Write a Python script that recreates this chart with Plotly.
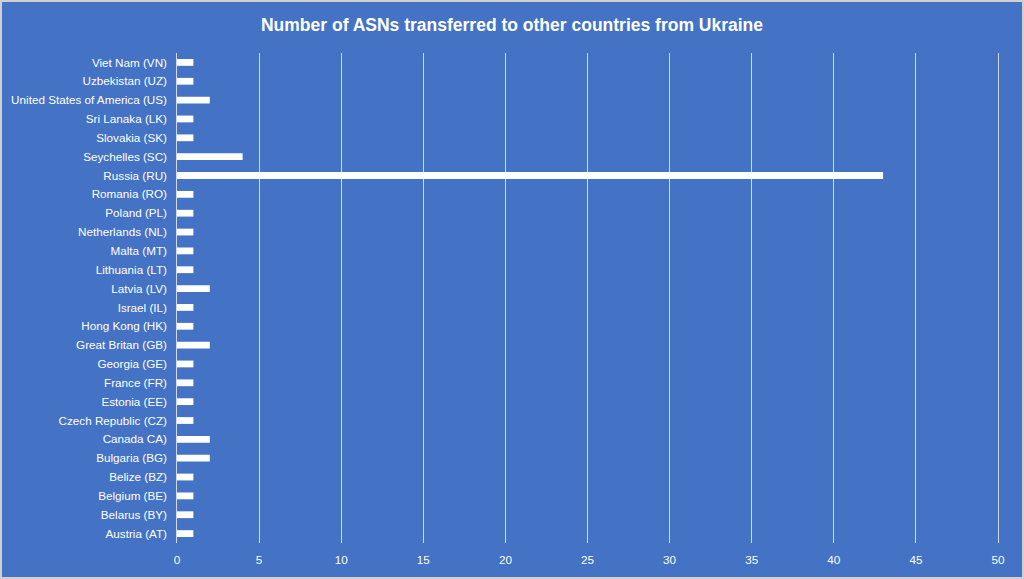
import plotly.graph_objects as go

countries = [
    "Austria (AT)", "Belarus (BY)", "Belgium (BE)", "Belize (BZ)", "Bulgaria (BG)",
    "Canada CA)", "Czech Republic (CZ)", "Estonia (EE)", "France (FR)", "Georgia (GE)",
    "Great Britan (GB)", "Hong Kong (HK)", "Israel (IL)", "Latvia (LV)", "Lithuania (LT)",
    "Malta (MT)", "Netherlands (NL)", "Poland (PL)", "Romania (RO)", "Russia (RU)",
    "Seychelles (SC)", "Slovakia (SK)", "Sri Lanaka (LK)", "United States of America (US)",
    "Uzbekistan (UZ)", "Viet Nam (VN)",
]
asn_counts = [1, 1, 1, 1, 2, 2, 1, 1, 1, 1, 2, 1, 1, 2, 1, 1, 1, 1, 1, 43, 4, 1, 1, 2, 1, 1]
x_ticks = [0, 5, 10, 15, 20, 25, 30, 35, 40, 45, 50]

W, H = 1024, 579
ml, mr, mt, mb = 174, 23, 53, 36
pw, ph = W - ml - mr, H - mt - mb

fig = go.Figure(go.Bar(
    x=asn_counts, y=countries, orientation="h",
    marker=dict(color="white", line=dict(width=0)),
))

fig.update_layout(
    width=W, height=H,
    margin=dict(l=ml, r=mr, t=mt, b=mb, autoexpand=False),
    paper_bgcolor="#4472C4", plot_bgcolor="#4472C4",
    bargap=0.64,
    showlegend=False,
    font=dict(family="Liberation Sans, Arial, sans-serif", color="white", size=11.7),
    title=dict(text="<b>Number of ASNs transferred to other countries from Ukraine</b>",
               x=0.5, xref="container", xanchor="center", y=1 - 25 / H, yanchor="middle",
               font=dict(size=17.5, color="white")),
    xaxis=dict(range=[-0.18, 50.18], tickvals=x_ticks, showgrid=True, gridcolor="#D0D8EC",
               gridwidth=1, zeroline=False, showline=False, ticks="",
               ticklabelstandoff=8, fixedrange=True, automargin=False),
    yaxis=dict(showgrid=False, zeroline=False, showline=False, ticks="",
               ticklabelstandoff=6, categoryorder="array", categoryarray=countries,
               fixedrange=True, automargin=False),
    shapes=[dict(type="rect", xref="paper", yref="paper",
                 x0=(-ml + 1) / pw, x1=1 + (mr - 1) / pw,
                 y0=(-mb + 1) / ph, y1=1 + (mt - 1) / ph,
                 line=dict(color="#D0D0D0", width=2), layer="above")],
)

fig.write_html("out.html", config={"displayModeBar": False},
               post_script="document.body.style.margin='0';document.body.style.overflow='hidden';")
